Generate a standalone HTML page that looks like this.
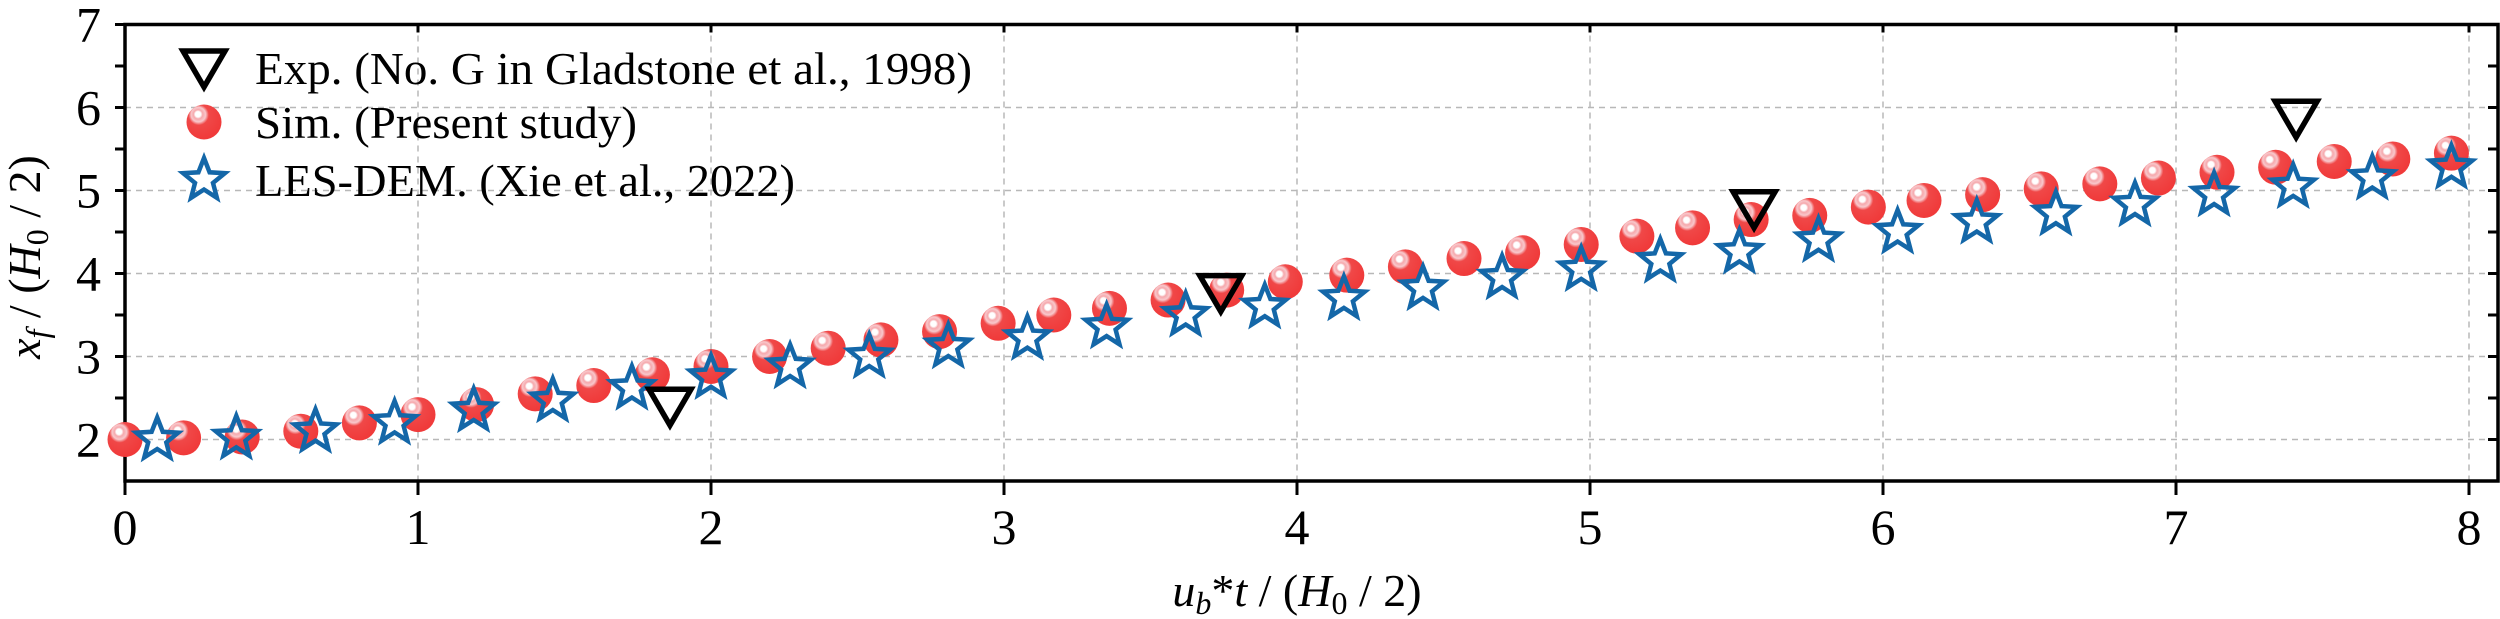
<!DOCTYPE html>
<html><head><meta charset="utf-8"><style>
html,body{margin:0;padding:0;background:#fff}
svg{display:block;font-family:"Liberation Serif",serif}
</style></head><body>
<svg id="chart" width="2500" height="619" viewBox="0 0 2500 619" xmlns="http://www.w3.org/2000/svg">
<defs>
<radialGradient id="ball" cx="0.38" cy="0.33" r="0.65" fx="0.32" fy="0.27">
<stop offset="0" stop-color="#ffffff"/>
<stop offset="0.12" stop-color="#ffffff"/>
<stop offset="0.2" stop-color="#f6a8ac"/>
<stop offset="0.32" stop-color="#f8c8cc"/>
<stop offset="0.45" stop-color="#f04848"/>
<stop offset="1" stop-color="#f03a3a"/>
</radialGradient>
</defs>
<g id="grid"></g>
<g id="axes"></g>
<g id="marks"></g>
<g id="legend"></g>
<text x="1297" y="606" font-size="46" text-anchor="middle" font-style="italic">u<tspan font-size="32" dy="8">b</tspan><tspan dy="-8" font-style="normal">*</tspan>t<tspan font-style="normal"> / (</tspan>H<tspan font-size="32" dy="8" font-style="normal">0</tspan><tspan dy="-8" font-style="normal"> / 2)</tspan></text>
<text transform="translate(40,257) rotate(-90)" font-size="46" text-anchor="middle" font-style="italic">x<tspan font-size="32" dy="8">f</tspan><tspan dy="-8" font-style="normal"> / (</tspan>H<tspan font-size="32" dy="8" font-style="normal">0</tspan><tspan dy="-8" font-style="normal"> / 2)</tspan></text>
</svg>
<script>
const xTicks = [0,1,2,3,4,5,6,7,8];
const yTicks = [2,3,4,5,6,7];
const simX = [0,0.2,0.4,0.6,0.8,1.0,1.2,1.4,1.6,1.8,2.0,2.2,2.4,2.58,2.78,2.98,3.17,3.36,3.56,3.76,3.96,4.17,4.37,4.57,4.77,4.97,5.16,5.35,5.55,5.75,5.95,6.14,6.34,6.54,6.74,6.94,7.14,7.34,7.54,7.74,7.94];
const simY = [2.0,2.02,2.03,2.1,2.2,2.3,2.42,2.55,2.65,2.78,2.88,3.0,3.1,3.2,3.3,3.4,3.5,3.58,3.68,3.8,3.9,3.98,4.08,4.18,4.25,4.35,4.45,4.55,4.65,4.7,4.8,4.88,4.95,5.02,5.08,5.15,5.22,5.28,5.35,5.38,5.45];
const lesX = [0.11,0.38,0.65,0.92,1.19,1.46,1.73,2.0,2.27,2.54,2.81,3.08,3.35,3.62,3.89,4.16,4.43,4.7,4.97,5.24,5.51,5.78,6.05,6.32,6.59,6.86,7.13,7.40,7.67,7.94];
const lesY = [2.0,2.02,2.1,2.2,2.35,2.47,2.62,2.75,2.88,3.0,3.12,3.22,3.36,3.5,3.6,3.7,3.82,3.95,4.05,4.15,4.26,4.4,4.5,4.62,4.72,4.83,4.95,5.05,5.15,5.28];
const expX = [1.86,3.74,5.56,7.41];
const expY = [2.4,3.77,4.78,5.87];

const NS='http://www.w3.org/2000/svg';
const L=125, R=2498, T=24.5, B=481;
const sx=v=>125+v*293;
const sy=v=>24.5+(7-v)*((B-T)/5.5);
function mk(tag,attrs,parent){const e=document.createElementNS(NS,tag);for(const k in attrs)e.setAttribute(k,attrs[k]);parent.appendChild(e);return e;}
const grid=document.getElementById('grid'),axes=document.getElementById('axes'),marks=document.getElementById('marks'),legend=document.getElementById('legend');

xTicks.forEach(v=>{const x=sx(v);
 if(v>0){const g=mk('line',{x1:x,x2:x,y1:T,y2:B,stroke:'#b8b8b8','stroke-width':1.5,'stroke-dasharray':'6 5'},grid);
 
 }
 const t=mk('line',{x1:x,x2:x,y1:B,y2:B+14,stroke:'#000','stroke-width':3},axes);
 
 
 mk('line',{x1:x,x2:x,y1:T,y2:T+8,stroke:'#000','stroke-width':3},axes);
 const lb=mk('text',{x:x,y:544,'font-size':50,'text-anchor':'middle'},axes);lb.textContent=v;
 
 
});
for(let v=1.5;v<=7.001;v+=0.5){const y=sy(v);const major=Math.abs(v-Math.round(v))<0.01;
 if(major&&v<7){const g=mk('line',{x1:L,x2:R,y1:y,y2:y,stroke:'#b8b8b8','stroke-width':1.5,'stroke-dasharray':'6 5'},grid);
 
 }
 if(v>1.6){mk('line',{x1:L-10,x2:L,y1:y,y2:y,stroke:'#000','stroke-width':3},axes);
 mk('line',{x1:R-10,x2:R,y1:y,y2:y,stroke:'#000','stroke-width':3},axes);}
}
yTicks.forEach(v=>{const lb=mk('text',{x:101,y:sy(v)+17,'font-size':50,'text-anchor':'end'},axes);lb.textContent=v;
 
 });
const fr=mk('rect',{x:L,y:T,width:R-L,height:B-T,fill:'none',stroke:'#000','stroke-width':3.5},axes);



function starPts(cx,cy,ro,ri){let p=[];for(let i=0;i<10;i++){const a=-Math.PI/2+i*Math.PI/5;const r=i%2?ri:ro;p.push((cx+r*Math.cos(a)).toFixed(1)+','+(cy+r*Math.sin(a)).toFixed(1));}return p.join(' ');}
function ball(x,y,p){return mk('circle',{cx:x,cy:y,r:17.5,fill:'url(#ball)'},p);}
function star(x,y,p){return mk('polygon',{points:starPts(x,y,22,9.5),fill:'none',stroke:'#1467a8','stroke-width':4.5,'stroke-linejoin':'miter'},p);}
function tri(x,y,p){return mk('polygon',{points:`${x-21},${y-17} ${x+21},${y-17} ${x},${y+19}`,fill:'none',stroke:'#000','stroke-width':5.5},p);}

simX.forEach((v,i)=>{const c=ball(sx(v),sy(simY[i]),marks);
 
 });
lesX.forEach((v,i)=>{const s=star(sx(v),sy(lesY[i]),marks);
 
 });
expX.forEach((v,i)=>{const t=tri(sx(v),sy(expY[i]),marks);
 
 });

const legItems=[['Exp. (No. G in Gladstone et al., 1998)',68,717,tri,'legend-entry-exp'],['Sim. (Present study)',122,382,ball,'legend-entry-sim'],['LES-DEM. (Xie et al., 2022)',180,540,star,'legend-entry-les-dem']];
legItems.forEach(it=>{const g=mk('g',{},legend);
 
 
 it[3](204,it[1],g);
 const t=mk('text',{x:255,y:it[1]+16,'font-size':46,textLength:it[2],lengthAdjust:'spacingAndGlyphs'},g);t.textContent=it[0];});
</script>
</body></html>
